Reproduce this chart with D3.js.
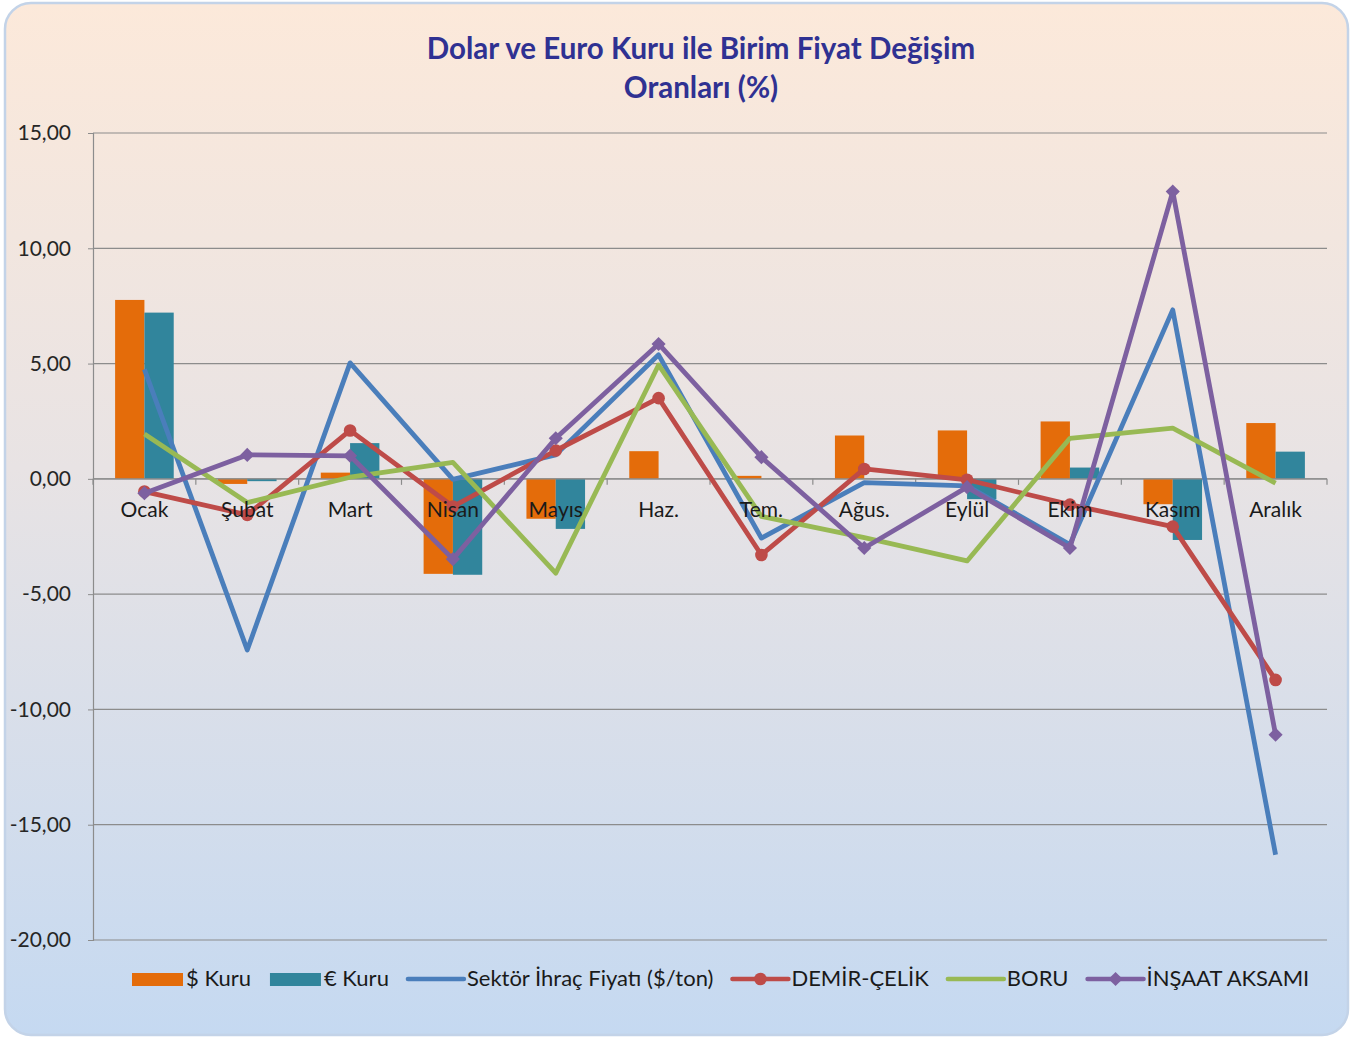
<!DOCTYPE html>
<html lang="tr">
<head>
<meta charset="UTF-8">
<title>Dolar ve Euro Kuru ile Birim Fiyat Değişim Oranları</title>
<script src="https://d3js.org/d3.v7.min.js"></script>
<style>
    body { margin: 0; background: #fff; }
    svg text { font-family: Lato, "Open Sans", sans-serif; }
    .title { font-size: 29.5px; font-weight: 700; fill: #2f3192; text-anchor: middle; }
    .tick-y { font-size: 21px; fill: #262626; text-anchor: end; }
    .cat { font-size: 21px; fill: #1a1a1a; text-anchor: middle; }
    .legend text { font-size: 22px; fill: #1a1a1a; }
</style>
</head>
<body>
<svg width="1368" height="1038"></svg>
<script>
    const months = ["Ocak", "Şubat", "Mart", "Nisan", "Mayıs", "Haz.", "Tem.", "Ağus.", "Eylül", "Ekim", "Kasım", "Aralık"];
    const usd = [7.76, -0.22, 0.27, -4.12, -1.73, 1.20, 0.13, 1.88, 2.10, 2.49, -1.10, 2.42];
    const eur = [7.21, -0.10, 1.55, -4.16, -2.17, 0, 0, 0, -0.88, 0.49, -2.65, 1.18];
    const sektor = [4.75, -7.42, 5.03, -0.02, 1.04, 5.38, -2.57, -0.16, -0.30, -2.85, 7.33, -16.30];
    const demir = [-0.55, -1.56, 2.10, -1.20, 1.23, 3.50, -3.30, 0.43, -0.04, -1.12, -2.07, -8.72];
    const boru = [1.95, -1.03, 0.07, 0.71, -4.09, 4.94, -1.63, -2.55, -3.56, 1.76, 2.20, -0.19];
    const insaat = [-0.62, 1.04, 1.00, -3.48, 1.76, 5.85, 0.94, -3.00, -0.36, -3.00, 12.46, -11.10];
    const yTicks = [15, 10, 5, 0, -5, -10, -15, -20];

    const svg = d3.select("svg");
    const W = 1368, H = 1038;
    const plot = {left: 93, right: 1327, top: 133, bottom: 940};

    // background panel
    const defs = svg.append("defs");
    const grad = defs.append("linearGradient").attr("id", "bg")
        .attr("x1", 0).attr("y1", 0).attr("x2", 0).attr("y2", 1);
    grad.append("stop").attr("offset", "0%").attr("stop-color", "#fce9da");
    grad.append("stop").attr("offset", "45%").attr("stop-color", "#e8e3e4");
    grad.append("stop").attr("offset", "100%").attr("stop-color", "#c5d9f1");

    svg.append("rect")
        .attr("x", 5).attr("y", 3).attr("width", 1343).attr("height", H - 6)
        .attr("rx", 26).attr("ry", 26)
        .attr("fill", "url(#bg)")
        .attr("stroke", "#c3d3e8").attr("stroke-width", 2.5);

    svg.append("text").attr("class", "title").attr("x", 701).attr("y", 59)
        .text("Dolar ve Euro Kuru ile Birim Fiyat Değişim");
    svg.append("text").attr("class", "title").attr("x", 701).attr("y", 98)
        .text("Oranları (%)");

    const x = d3.scaleBand().domain(months).range([plot.left, plot.right]).paddingInner(0).paddingOuter(0);
    const y = d3.scaleLinear().domain([-20, 15]).range([plot.bottom, plot.top]);
    const cx = m => x(m) + x.bandwidth() / 2;

    // gridlines
    svg.append("g").selectAll("line").data(yTicks).join("line")
        .attr("x1", plot.left).attr("x2", plot.right)
        .attr("y1", d => y(d)).attr("y2", d => y(d))
        .attr("stroke", "#8c8c8c").attr("stroke-width", 1.2);

    // y axis
    const yAxis = svg.append("g")
        .attr("transform", `translate(${plot.left},0)`)
        .call(d3.axisLeft(y).tickValues(yTicks).tickSize(5).tickPadding(17)
            .tickFormat(d => d3.format(".2f")(d).replace(".", ",").replace("−", "-")));
    yAxis.select(".domain").attr("stroke", "#8c8c8c").attr("stroke-width", 1.2);
    yAxis.selectAll(".tick line").attr("stroke", "#8c8c8c");
    yAxis.selectAll(".tick text").attr("class", "tick-y").attr("font-size", null).attr("font-family", null);

    // bars
    const bw = x.bandwidth() * 0.285;
    const series = [
        {name: "$ Kuru", vals: usd, color: "#e46c0a", off: -bw},
        {name: "€ Kuru", vals: eur, color: "#31859c", off: 0}
    ];
    series.forEach(s => {
        svg.append("g").selectAll("rect").data(months).join("rect")
            .attr("x", (m) => cx(m) + s.off)
            .attr("width", bw)
            .attr("y", (m, i) => y(Math.max(0, s.vals[i])))
            .attr("height", (m, i) => Math.abs(y(s.vals[i]) - y(0)))
            .attr("fill", s.color);
    });

    // x axis at zero
    const xAxis = svg.append("g")
        .attr("transform", `translate(0,${y(0)})`);
    xAxis.append("line").attr("x1", plot.left).attr("x2", plot.right)
        .attr("stroke", "#8c8c8c").attr("stroke-width", 1.2);
    xAxis.selectAll("line.tk").data(months.concat(["__end"])).join("line")
        .attr("class", "tk")
        .attr("x1", (m, i) => i < months.length ? x(m) : plot.right)
        .attr("x2", (m, i) => i < months.length ? x(m) : plot.right)
        .attr("y1", 0).attr("y2", 6)
        .attr("stroke", "#8c8c8c").attr("stroke-width", 1.2);

    // lines
    const lines = [
        {name: "Sektör İhraç Fiyatı ($/ton)", vals: sektor, color: "#4a7ebb", marker: null},
        {name: "DEMİR-ÇELİK", vals: demir, color: "#be4b48", marker: "circle"},
        {name: "BORU", vals: boru, color: "#98b954", marker: null},
        {name: "İNŞAAT AKSAMI", vals: insaat, color: "#7d60a0", marker: "diamond"}
    ];
    const lineGen = d3.line().x(d => cx(d.m)).y(d => y(d.v));
    const sym = {
        circle: d3.symbol().type(d3.symbolCircle).size(125),
        diamond: d3.symbol().type(d3.symbolSquare).size(100)
    };
    const rot = {circle: "", diamond: " rotate(45)"};
    lines.forEach(l => {
        const pts = months.map((m, i) => ({m: m, v: l.vals[i]}));
        svg.append("path").datum(pts)
            .attr("d", lineGen)
            .attr("fill", "none")
            .attr("stroke", l.color)
            .attr("stroke-width", 4.8)
            .attr("stroke-linejoin", "round");
        if (l.marker) {
            svg.append("g").selectAll("path").data(pts).join("path")
                .attr("d", sym[l.marker])
                .attr("transform", d => `translate(${cx(d.m)},${y(d.v)})` + rot[l.marker])
                .attr("fill", l.color);
        }
    });

    // category labels
    svg.append("g").selectAll("text").data(months).join("text")
        .attr("class", "cat")
        .attr("x", m => cx(m))
        .attr("y", y(0) + 38)
        .text(m => m);

    // legend
    const legend = svg.append("g").attr("class", "legend");
    const items = series.map(s => ({name: s.name, color: s.color, type: "bar"}))
        .concat(lines.map(l => ({name: l.name, color: l.color, type: "line", marker: l.marker})));
    let lx = 132;
    const ly = 979;
    items.forEach(it => {
        const g = legend.append("g");
        if (it.type === "bar") {
            g.append("rect").attr("x", lx).attr("y", ly - 6).attr("width", 51).attr("height", 13)
                .attr("fill", it.color);
        } else {
            g.append("line").attr("x1", lx).attr("x2", lx + 56)
                .attr("y1", ly).attr("y2", ly)
                .attr("stroke", it.color).attr("stroke-width", 4.5).attr("stroke-linecap", "round");
            if (it.marker) {
                g.append("path").attr("d", sym[it.marker])
                    .attr("transform", `translate(${lx + 28},${ly})` + rot[it.marker])
                    .attr("fill", it.color);
            }
        }
        const sw = it.type === "bar" ? 54 : 59;
        const t = g.append("text").attr("x", lx + sw).attr("y", ly + 7).text(it.name);
        lx += sw + t.node().getComputedTextLength() + 19;
    });
</script>
</body>
</html>
